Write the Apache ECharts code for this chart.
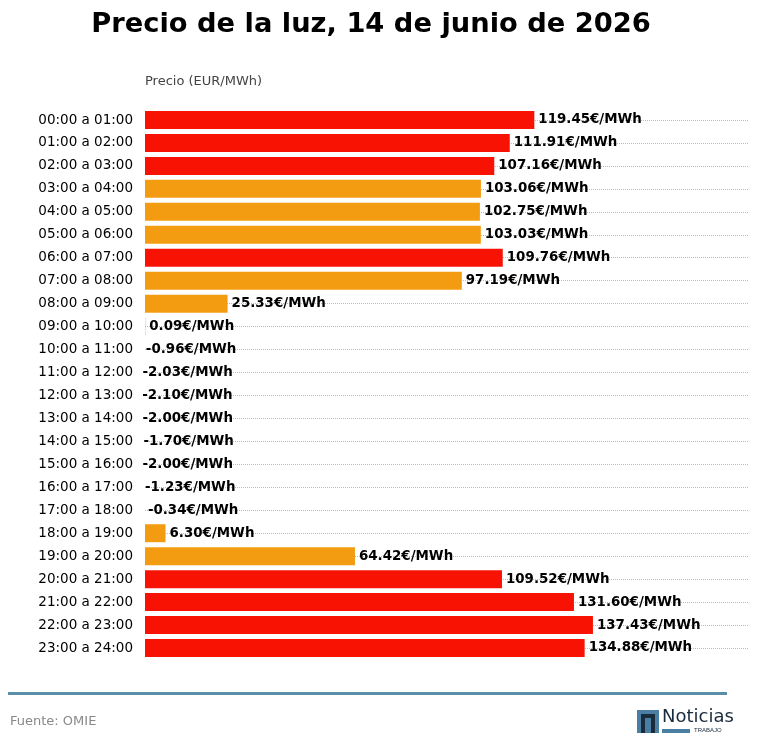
<!DOCTYPE html>
<html><head><meta charset="utf-8">
<script src="https://cdn.jsdelivr.net/npm/echarts@6/dist/echarts.min.js"></script>
<style>html,body{margin:0;padding:0;background:#fff}#c{width:758px;height:755px}</style>
</head><body><div id="c"></div>
<script>
// tramos horarios
const horas = ['00:00 a 01:00','01:00 a 02:00','02:00 a 03:00','03:00 a 04:00','04:00 a 05:00','05:00 a 06:00',
  '06:00 a 07:00','07:00 a 08:00','08:00 a 09:00','09:00 a 10:00','10:00 a 11:00','11:00 a 12:00',
  '12:00 a 13:00','13:00 a 14:00','14:00 a 15:00','15:00 a 16:00','16:00 a 17:00','17:00 a 18:00',
  '18:00 a 19:00','19:00 a 20:00','20:00 a 21:00','21:00 a 22:00','22:00 a 23:00','23:00 a 24:00'];
const precios = [119.45,111.91,107.16,103.06,102.75,103.03,109.76,97.19,25.33,0.09,-0.96,-2.03,
  -2.10,-2.00,-1.70,-2.00,-1.23,-0.34,6.30,64.42,109.52,131.60,137.43,134.88];

const rojo = '#f81204', naranja = '#f39c12';
const pxPorEuro = 603 / 185;

function colorBarra(v) {
  if (v < 0) return 'rgba(0,0,0,0)';
  return v >= 105 ? rojo : naranja;
}

let chart = echarts.init(document.getElementById('c'));
chart.setOption({
  animation: false,
  textStyle: { fontFamily: 'DejaVu Sans' },
  title: { text: 'Precio de la luz, 14 de junio de 2026', left: 366, textAlign: 'center', top: 6,
    textStyle: { fontSize: 27.3, fontWeight: 'bold', color: '#000' } },
  grid: { left: 145, right: 10, top: 120, bottom: 107 },
  xAxis: { type: 'value', min: 0, max: 185, show: false },
  yAxis: {
    type: 'category', data: horas, inverse: true, boundaryGap: false,
    axisLine: { show: false }, axisTick: { show: false },
    axisLabel: { color: '#000', fontSize: 13.5, margin: 12 },
    splitLine: { show: true, interval: 0, lineStyle: { type: 'dotted', color: '#bbb' } }
  },
  series: [{
    type: 'bar', barWidth: 18, clip: false,
    data: precios.map(v => ({
      value: v,
      itemStyle: { color: colorBarra(v) },
      label: { offset: [v < 0 ? v * pxPorEuro : 0, 0] }
    })),
    label: { show: true, position: 'right', distance: 4, color: '#000', fontWeight: 'bold', fontSize: 13.4,
      formatter: p => p.value.toFixed(2) + '€/MWh' }
  }],
  graphic: [
    { type: 'text', left: 145, top: 75, style: { text: 'Precio (EUR/MWh)', fill: '#444', fontSize: 13, fontFamily: 'DejaVu Sans' } },
    { type: 'rect', shape: { x: 8, y: 692, width: 719, height: 3 }, style: { fill: '#5b8fa8' } },
    { type: 'text', left: 10, top: 715, style: { text: 'Fuente: OMIE', fill: '#888', fontSize: 13, fontFamily: 'DejaVu Sans' } },
    { type: 'rect', shape: { x: 637, y: 710, width: 22, height: 23 }, style: { fill: '#4a7fa3' } },
    { type: 'rect', shape: { x: 641, y: 714, width: 14, height: 19 }, style: { fill: '#1a2b3c' } },
    { type: 'rect', shape: { x: 645, y: 718, width: 6, height: 15 }, style: { fill: '#4a7fa3' } },
    { type: 'text', left: 662, top: 708, style: { text: 'Noticias', fill: '#1a2b3c', fontSize: 18, fontFamily: 'DejaVu Sans' } },
    { type: 'rect', shape: { x: 662, y: 729, width: 28, height: 4 }, style: { fill: '#4a7fa3' } },
    { type: 'text', left: 694, top: 727, style: { text: 'TRABAJO', fill: '#1a2b3c', fontSize: 6 } }
  ]
});
</script></body></html>
